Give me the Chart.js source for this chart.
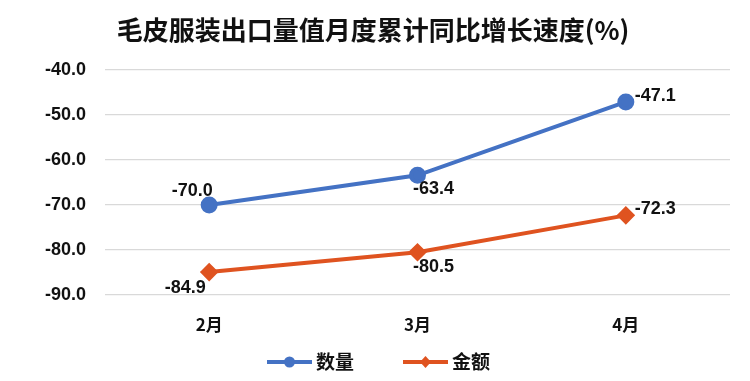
<!DOCTYPE html>
<html>
<head>
<meta charset="utf-8">
<script src="https://cdn.jsdelivr.net/npm/chart.js@4.4.1/dist/chart.umd.min.js"></script>
<style>
html,body{margin:0;padding:0;background:#fff;}
#wrap{width:750px;height:381px;}
</style>
</head>
<body>
<div id="wrap"><canvas id="c" width="750" height="381"></canvas></div>
<script>
const titleText = "毛皮服装出口量值月度累计同比增长速度(%)";
const categories = ["2月", "3月", "4月"];
const seriesNames = ["数量", "金额"];
const quantityValues = [-70.0, -63.4, -47.1];
const amountValues = [-84.9, -80.5, -72.3];
const yTicks = [-40, -50, -60, -70, -80, -90];

const BLUE = "#4472C4";
const ORANGE = "#DF5320";
const NUM_FONT = "bold 18px 'Liberation Sans', Arial, sans-serif";
const CJK_FONT = "'Noto Sans CJK SC', sans-serif";

// label placement (style only): [dx, dy, align]
const labelPlacement = [
  [[-17, -14, "center"], [16, 14, "center"], [9, -6, "left"]],
  [[-24, 16, "center"], [16, 15, "center"], [9, -6, "left"]]
];

const overlay = {
  id: "overlay",
  afterDatasetsDraw(chart) {
    const ctx = chart.ctx;
    ctx.save();
    // data labels
    ctx.font = NUM_FONT;
    ctx.fillStyle = "#111";
    ctx.textBaseline = "middle";
    chart.data.datasets.forEach((ds, di) => {
      const meta = chart.getDatasetMeta(di);
      meta.data.forEach((pt, i) => {
        const p = labelPlacement[di][i];
        ctx.textAlign = p[2];
        ctx.fillText(ds.data[i].toFixed(1), pt.x + p[0], pt.y + p[1]);
      });
    });
    // title
    ctx.font = "bold 26px " + CJK_FONT;
    ctx.textAlign = "center";
    ctx.fillStyle = "#111";
    ctx.fillText(titleText, 373, 30);
    // legend
    const items = [
      {name: seriesNames[0], color: BLUE, shape: "circle", x: 267},
      {name: seriesNames[1], color: ORANGE, shape: "diamond", x: 403}
    ];
    const ly = 362;
    items.forEach(it => {
      ctx.strokeStyle = it.color;
      ctx.fillStyle = it.color;
      ctx.lineWidth = 4;
      ctx.beginPath();
      ctx.moveTo(it.x, ly);
      ctx.lineTo(it.x + 45, ly);
      ctx.stroke();
      const cx = it.x + 22.5;
      ctx.beginPath();
      if (it.shape === "circle") {
        ctx.arc(cx, ly, 5.5, 0, Math.PI * 2);
      } else {
        ctx.moveTo(cx, ly - 6); ctx.lineTo(cx + 5.5, ly); ctx.lineTo(cx, ly + 6); ctx.lineTo(cx - 5.5, ly); ctx.closePath();
      }
      ctx.fill();
      ctx.fillStyle = "#111";
      ctx.font = "bold 19px " + CJK_FONT;
      ctx.textAlign = "left";
      ctx.textBaseline = "middle";
      ctx.fillText(it.name, it.x + 49, ly);
    });
    ctx.restore();
  }
};

new Chart(document.getElementById("c"), {
  type: "line",
  data: {
    labels: categories,
    datasets: [
      {
        label: seriesNames[0],
        data: quantityValues,
        borderColor: BLUE,
        backgroundColor: BLUE,
        borderWidth: 4,
        pointStyle: "circle",
        pointRadius: 6.5,
        pointHoverRadius: 6.5,
        tension: 0
      },
      {
        label: seriesNames[1],
        data: amountValues,
        borderColor: ORANGE,
        backgroundColor: ORANGE,
        borderWidth: 4,
        pointStyle: "rectRot",
        pointRadius: 6.5,
        pointHoverRadius: 6.5,
        tension: 0
      }
    ]
  },
  options: {
    responsive: false,
    animation: false,
    events: [],
    layout: { padding: { top: 70, right: 20, left: 0, bottom: 0 } },
    plugins: {
      legend: { display: false },
      title: { display: false },
      tooltip: { enabled: false }
    },
    scales: {
      x: {
        offset: true,
        grid: { display: false, drawTicks: false },
        border: { display: false },
        ticks: {
          padding: 19,
          color: "#111",
          font: { family: CJK_FONT, size: 17, weight: "bold" }
        },
        afterFit(scale) { scale.height = 86; }
      },
      y: {
        min: -90,
        max: -40,
        afterBuildTicks(scale) { scale.ticks = yTicks.map(v => ({ value: v })); },
        grid: { color: "#D9D9D9", lineWidth: 1.3, drawTicks: false },
        border: { display: false },
        ticks: {
          padding: 19,
          color: "#111",
          font: { family: "'Liberation Sans', Arial, sans-serif", size: 18, weight: "bold" },
          callback: v => Number(v).toFixed(1)
        },
        afterFit(scale) { scale.width = 105; }
      }
    }
  },
  plugins: [overlay]
});
</script>
</body>
</html>
